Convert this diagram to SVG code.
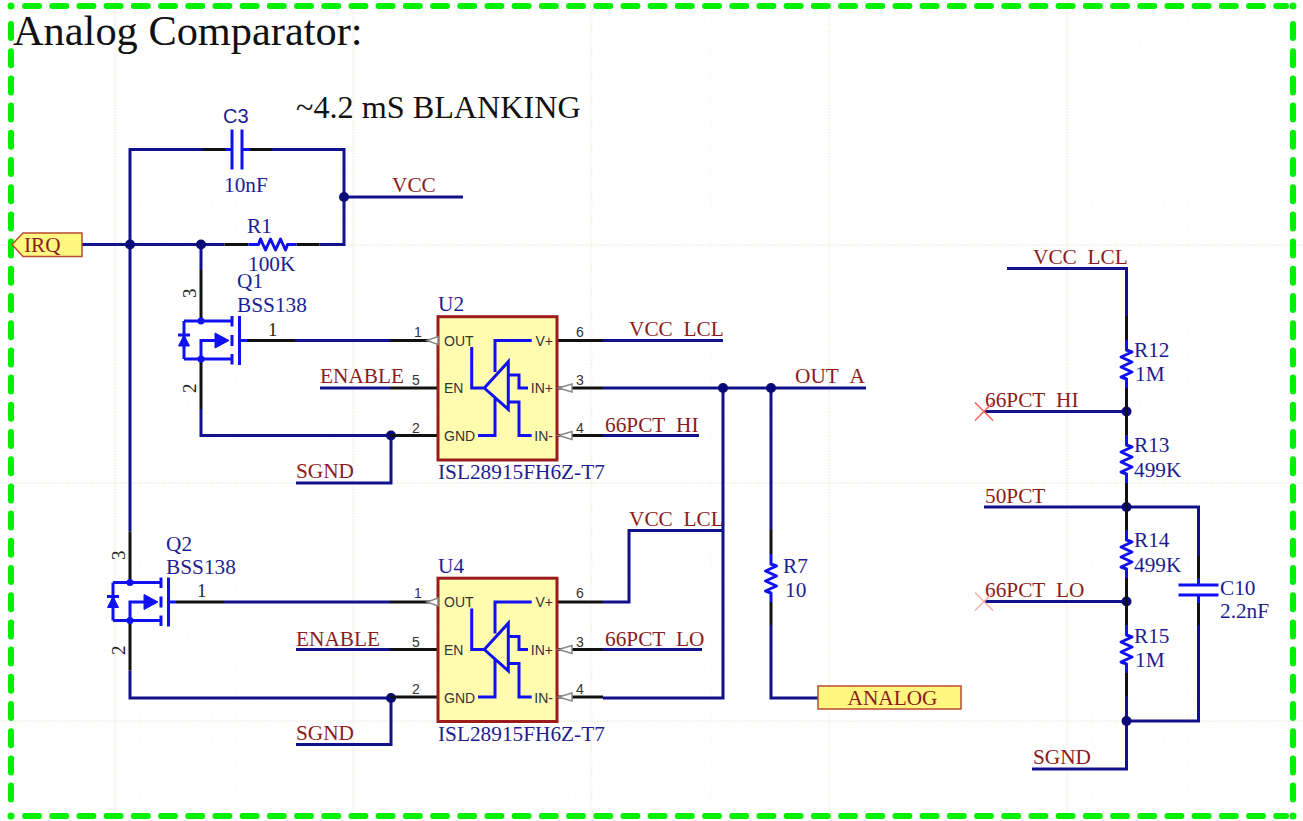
<svg xmlns="http://www.w3.org/2000/svg" xmlns:xlink="http://www.w3.org/1999/xlink" width="1303" height="821" viewBox="0 0 1303 821">
<style>
text{font-family:"Liberation Serif","Times New Roman",serif}
.wire{fill:none;stroke:#11118c;stroke-width:3;stroke-linejoin:miter}
.pin{fill:none;stroke:#111;stroke-width:3}
.dev{fill:none;stroke:#1010f0;stroke-width:3}
.devf{fill:#1010f0;stroke:#1010f0;stroke-width:1}
.dot{fill:#0a0a78}
.net{font-size:21.3px;fill:#8c1c1c}
.des{font-size:21.3px;fill:#1d1d92}
.sans{font-family:"Liberation Sans",Arial,sans-serif}
.pn{font-family:"Liberation Sans",Arial,sans-serif;font-size:14px;fill:#333}
.pnum{font-family:"Liberation Sans",Arial,sans-serif;font-size:14px;fill:#333;text-anchor:middle}
.qnum{font-size:19px;fill:#222}
.title{fill:#111}
.body{fill:#fffcb0;stroke:#9c1c1c;stroke-width:3}
.port{fill:#fff780;stroke:#b84a30;stroke-width:1.5}
.bd{fill:none;stroke:#00f000;stroke-width:6;stroke-linecap:round;stroke-dasharray:14 13.2}
.tri{fill:#fff;stroke:#888;stroke-width:1.5}
</style>
<defs>
<pattern id="minor" x="20.8" y="7" width="23.8" height="23.8" patternUnits="userSpaceOnUse">
<path d="M0 0V23.8M0 0H23.8" fill="none" stroke="#f5f5e6" stroke-width="1" stroke-dasharray="1.5 1.5"/>
</pattern>
<g id="res">
<path class="pin" d="M0 0V24M0 72V95"/>
<path class="dev" stroke-linejoin="round" d="M0 24V34L5.5 36L-5.5 41L5.5 46L-5.5 51L5.5 56L-5.5 61L0 63V72"/>
</g>
<g id="cap">
<path class="pin" d="M0 0V22M0 47V69"/>
<path class="dev" d="M0 22V29M-20 29H20M-20 39H20M0 39V47"/>
</g>
<g id="fet">
<path class="pin" d="M0 -51V0M0 38V88M46 19.5H94"/>
<path class="dev" d="M-17 0H31M-17 0V38M-17 38H31M31 -5V5.5M31 14V25M31 33V43.5M38.5 -5V44M38.5 19.5H46M0 38V19.5H14"/>
<polygon class="devf" points="14,12 28,19.5 14,27"/>
<path class="dev" d="M-23 14H-11"/>
<polygon class="devf" points="-17,14 -22.5,25 -11.5,25"/>
<circle style="fill:#1010f0" r="3.5"/>
<circle style="fill:#1010f0" cy="38" r="3.5"/>
</g>
<g id="ic">
<path class="pin" d="M390 340.5H438M390 388H438M390 435.5H438M557 340.5H603M557 388H603M557 435.5H603"/>
<rect class="body" x="438" y="316.7" width="119" height="143.3"/>
<polygon class="tri" points="427,340.5 438,336.5 438,344.5"/>
<polygon class="tri" points="558.5,388 572,384 572,392"/>
<polygon class="tri" points="558.5,435.5 572,431.5 572,439.5"/>
<path class="dev" d="M471.7 347V388H484.3M484.3 388L508.3 361.7V409.3ZM495 372V340.5H531.7M495 397V435.5H478M508.3 375H519V388H528M508.3 402H519V435.5H531.7"/>
</g>
<g id="xmark"><path d="M-9 -9L9 9M-9 9L9 -9" fill="none" stroke-width="1.5"/></g>
</defs>

<rect width="1303" height="821" fill="#fff"/>
<g id="grid">
<rect width="1303" height="821" fill="url(#minor)"/>
<path d="M0 245H1303M0 483H1303M0 721H1303M115 0V821M353 0V821M591 0V821M829 0V821M1067 0V821" fill="none" stroke="#eeeee4" stroke-width="1" stroke-dasharray="2 1"/>
</g>

<g id="frame">
<path class="bd" d="M25 6H1286"/>
<path class="bd" d="M25 816H1286"/>
<path class="bd" d="M11 24V800"/>
<path class="bd" d="M1293 24V800"/>
<circle cx="11" cy="6" r="3.5" fill="#00f000"/>
<circle cx="1293" cy="6" r="3.5" fill="#00f000"/>
<circle cx="11" cy="816" r="3.5" fill="#00f000"/>
<circle cx="1293" cy="816" r="3.5" fill="#00f000"/>
</g>

<g id="notes">
<text class="title" x="13" y="45" font-size="42.4">Analog Comparator:</text>
<text class="title" x="296" y="118" font-size="32.2">~4.2 mS BLANKING</text>
</g>

<g id="net-labels">
<text class="net" x="392" y="192">VCC</text>
<text class="net" x="320" y="383">ENABLE</text>
<text class="net" x="296" y="478">SGND</text>
<text class="net" x="629" y="336">VCC<tspan dy="1.5">_</tspan><tspan dy="-1.5">LCL</tspan></text>
<text class="net" x="795" y="383">OUT<tspan dy="1.5">_</tspan><tspan dy="-1.5">A</tspan></text>
<text class="net" x="605" y="431.5">66PCT<tspan dy="1.5">_</tspan><tspan dy="-1.5">HI</tspan></text>
<text class="net" x="629" y="526">VCC<tspan dy="1.5">_</tspan><tspan dy="-1.5">LCL</tspan></text>
<text class="net" x="605" y="645.5">66PCT<tspan dy="1.5">_</tspan><tspan dy="-1.5">LO</tspan></text>
<text class="net" x="296" y="645.5">ENABLE</text>
<text class="net" x="296" y="740">SGND</text>
<text class="net" x="1033" y="263.5">VCC<tspan dy="1.5">_</tspan><tspan dy="-1.5">LCL</tspan></text>
<text class="net" x="985" y="407">66PCT<tspan dy="1.5">_</tspan><tspan dy="-1.5">HI</tspan></text>
<text class="net" x="985" y="503">50PCT</text>
<text class="net" x="985" y="597">66PCT<tspan dy="1.5">_</tspan><tspan dy="-1.5">LO</tspan></text>
<text class="net" x="1033" y="764">SGND</text>
</g>

<g id="connectors">
<path class="wire" d="M203 149.5H130V531.5"/>
<path class="wire" d="M271 149.5H344V244.5H319.5"/>
<path class="wire" d="M344 197H463"/>
<path class="wire" d="M82 244.5H224.5"/>
<path class="wire" d="M201 244.5V270"/>
<path class="wire" d="M201 409V435.5H390"/>
<path class="wire" d="M391 435.5V483H296"/>
<path class="wire" d="M295 340.5H390"/>
<path class="wire" d="M320 388H390"/>
<path class="wire" d="M603 340.5H723"/>
<path class="wire" d="M603 388H866"/>
<path class="wire" d="M603 435.5H699"/>
<path class="wire" d="M723 388V698H603"/>
<path class="wire" d="M771 388V530"/>
<path class="wire" d="M771 625V698H818"/>
<path class="wire" d="M130 670.5V698H390"/>
<path class="wire" d="M391 698V744.5H296"/>
<path class="wire" d="M224 602H390"/>
<path class="wire" d="M296 649.5H390"/>
<path class="wire" d="M603 602H629V530.5H723"/>
<path class="wire" d="M603 649.5H702"/>
<path class="wire" d="M1007 268.5H1126.5V316"/>
<path class="wire" d="M984 411.5H1126.5"/>
<path class="wire" d="M984 507H1198.5V556"/>
<path class="wire" d="M984 601.5H1126.5"/>
<path class="wire" d="M1126.5 696V769H1032"/>
<path class="wire" d="M1126.5 721H1198.5V625"/>
<g id="junctions">
<circle class="dot" cx="344" cy="197" r="5"/>
<circle class="dot" cx="130" cy="244.5" r="5"/>
<circle class="dot" cx="201" cy="244.5" r="5"/>
<circle class="dot" cx="391" cy="435.5" r="5"/>
<circle class="dot" cx="391" cy="698" r="5"/>
<circle class="dot" cx="723" cy="388" r="5"/>
<circle class="dot" cx="771" cy="388" r="5"/>
<circle class="dot" cx="1126.5" cy="411.5" r="5"/>
<circle class="dot" cx="1126.5" cy="507" r="5"/>
<circle class="dot" cx="1126.5" cy="601.5" r="5"/>
<circle class="dot" cx="1126.5" cy="721" r="5"/>
</g>
</g>

<g id="C3">
<use href="#cap" transform="translate(203 149.5) rotate(-90)"/>
<text class="des sans" x="223" y="123" style="font-size:20px">C3</text>
<text class="des" x="224" y="192">10nF</text>
</g>
<g id="R1">
<use href="#res" transform="translate(224.5 244.5) rotate(-90)"/>
<text class="des" x="247" y="233">R1</text>
<text class="des" x="248" y="271">100K</text>
</g>
<g id="IRQ">
<polygon class="port" points="12,244.5 23,233 82,233 82,256.5 23,256.5"/>
<text class="net" x="24" y="252">IRQ</text>
</g>
<g id="Q1">
<use href="#fet" transform="translate(201 321)"/>
<text class="des" x="237" y="288">Q1</text>
<text class="des" x="237" y="312">BSS138</text>
<text class="qnum" x="268" y="336">1</text>
<text class="qnum" transform="translate(196 298) rotate(-90)">3</text>
<text class="qnum" transform="translate(196 393) rotate(-90)">2</text>
</g>
<g id="Q2">
<use href="#fet" transform="translate(130 582.5)"/>
<text class="des" x="166" y="551">Q2</text>
<text class="des" x="166" y="574">BSS138</text>
<text class="qnum" x="197" y="597">1</text>
<text class="qnum" transform="translate(125 560) rotate(-90)">3</text>
<text class="qnum" transform="translate(125 655) rotate(-90)">2</text>
</g>
<g id="U2">
<use href="#ic"/>
<text class="des" x="438" y="311">U2</text>
<text class="des" x="438" y="479">ISL28915FH6Z-T7</text>
<text class="pn" x="444" y="345.7">OUT</text>
<text class="pn" x="444" y="393">EN</text>
<text class="pn" x="444" y="441">GND</text>
<text class="pn" x="553" y="345.7" text-anchor="end">V+</text>
<text class="pn" x="553" y="393" text-anchor="end">IN+</text>
<text class="pn" x="553" y="441" text-anchor="end">IN-</text>
<text class="pnum" x="418" y="336.5">1</text>
<text class="pnum" x="416" y="385">5</text>
<text class="pnum" x="416" y="432.5">2</text>
<text class="pnum" x="580" y="336.5">6</text>
<text class="pnum" x="580" y="385">3</text>
<text class="pnum" x="580" y="432.5">4</text>
</g>
<g id="U4" transform="translate(0 261.5)">
<use href="#ic"/>
<text class="des" x="438" y="311">U4</text>
<text class="des" x="438" y="479">ISL28915FH6Z-T7</text>
<text class="pn" x="444" y="345.7">OUT</text>
<text class="pn" x="444" y="393">EN</text>
<text class="pn" x="444" y="441">GND</text>
<text class="pn" x="553" y="345.7" text-anchor="end">V+</text>
<text class="pn" x="553" y="393" text-anchor="end">IN+</text>
<text class="pn" x="553" y="441" text-anchor="end">IN-</text>
<text class="pnum" x="418" y="336.5">1</text>
<text class="pnum" x="416" y="385">5</text>
<text class="pnum" x="416" y="432.5">2</text>
<text class="pnum" x="580" y="336.5">6</text>
<text class="pnum" x="580" y="385">3</text>
<text class="pnum" x="580" y="432.5">4</text>
</g>
<g id="R7">
<use href="#res" transform="translate(771 530)"/>
<text class="des" x="783" y="573">R7</text>
<text class="des" x="785" y="597">10</text>
</g>
<g id="ANALOG">
<rect class="port" x="818" y="686" width="143" height="23"/>
<text class="net" x="892.5" y="705" text-anchor="middle">ANALOG</text>
</g>
<g id="R12">
<use href="#res" transform="translate(1126.5 316)"/>
<text class="des" x="1134" y="357">R12</text>
<text class="des" x="1135" y="381">1M</text>
</g>
<g id="R13">
<use href="#res" transform="translate(1126.5 411)"/>
<text class="des" x="1134" y="452">R13</text>
<text class="des" x="1134" y="477">499K</text>
</g>
<g id="R14">
<use href="#res" transform="translate(1126.5 506)"/>
<text class="des" x="1134" y="547">R14</text>
<text class="des" x="1134" y="572">499K</text>
</g>
<g id="R15">
<use href="#res" transform="translate(1126.5 601)"/>
<text class="des" x="1134" y="643">R15</text>
<text class="des" x="1135" y="667">1M</text>
</g>
<g id="C10">
<use href="#cap" transform="translate(1198.5 556)"/>
<text class="des" x="1220" y="595">C10</text>
<text class="des" x="1220" y="618">2.2nF</text>
</g>
<g id="no-connects">
<use href="#xmark" transform="translate(984 411.5)" stroke="#f26060"/>
<use href="#xmark" transform="translate(984 601.5)" stroke="#f9b0b0"/>
</g>
</svg>
